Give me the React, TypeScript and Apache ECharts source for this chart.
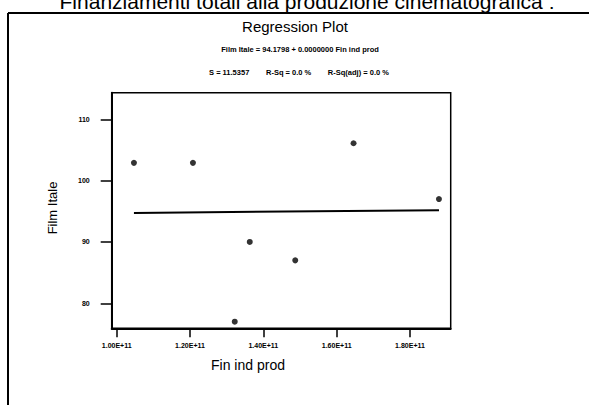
import React, { useEffect, useRef } from "react";
import * as echarts from "echarts";

const pageTitle = "Finanziamenti totali alla produzione cinematografica :";
const plotTitle = "Regression Plot";
const equationText = "Film Itale = 94.1798 + 0.0000000 Fin ind prod";
const statsText = "S = 11.5357        R-Sq = 0.0 %        R-Sq(adj) = 0.0 %";
const xName = "Fin ind prod";
const yName = "Film Itale";

// observations (Fin ind prod, Film Itale)
const finIndProd = [1.047e11, 1.208e11, 1.322e11, 1.363e11, 1.487e11, 1.646e11, 1.879e11];
const filmItale = [102.9, 102.9, 77.0, 90.0, 87.0, 106.1, 97.0];

// fitted line
const intercept = 94.1798;
const slope = 5.3e-12;

const xTicks = [1.0e11, 1.2e11, 1.4e11, 1.6e11, 1.8e11];
const yTicks = [80, 90, 100, 110];

const FONT = "'Liberation Sans', Arial, sans-serif";

export default function App() {
  const ref = useRef<HTMLDivElement>(null);
  useEffect(() => {
    const chart = echarts.init(ref.current!, null, { renderer: "svg" });
    const xMin = Math.min(...finIndProd);
    const xMax = Math.max(...finIndProd);
    const gl = 111.7, gt = 92.7, gw = 339, gh = 235.6;
    chart.setOption({
      animation: false,
      backgroundColor: "#ffffff",
      grid: {
        left: gl,
        top: gt,
        width: gw,
        height: gh,
        show: true,
        borderColor: "#000",
        borderWidth: 1.5,
        backgroundColor: "transparent",
      },
      xAxis: {
        type: "value",
        min: 0.9864e11,
        max: 1.911e11,
        splitLine: { show: false },
        axisLine: { show: true, onZero: false, lineStyle: { color: "#000", width: 2 } },
        axisTick: { show: true, length: 9, customValues: xTicks, lineStyle: { color: "#000", width: 1.5 } },
        axisLabel: {
          customValues: xTicks,
          margin: 14,
          color: "#000",
          fontFamily: FONT,
          fontWeight: "bold",
          fontSize: 7,
          formatter: (v: number) => (v / 1e11).toFixed(2) + "E+11",
        },
      },
      yAxis: {
        type: "value",
        min: 75.92,
        max: 114.34,
        splitLine: { show: false },
        axisLine: { show: true, onZero: false, lineStyle: { color: "#000", width: 2 } },
        axisTick: { show: true, length: 11, customValues: yTicks, lineStyle: { color: "#000", width: 1.5 } },
        axisLabel: {
          customValues: yTicks,
          margin: 22,
          color: "#000",
          fontFamily: FONT,
          fontWeight: "bold",
          fontSize: 7,
        },
      },
      series: [
        {
          type: "line",
          data: [
            [xMin, intercept + slope * xMin],
            [xMax, intercept + slope * xMax],
          ],
          showSymbol: false,
          lineStyle: { color: "#000", width: 2 },
          silent: true,
        },
        {
          type: "scatter",
          data: finIndProd.map((x, i) => [x, filmItale[i]]),
          symbol: "circle",
          symbolSize: 6,
          itemStyle: { color: "#000" },
        },
      ],
      graphic: [
        { type: "line", shape: { x1: 8, y1: 13, x2: 589, y2: 13 }, style: { stroke: "#000", lineWidth: 2 } },
        { type: "line", shape: { x1: 8, y1: 13, x2: 8, y2: 405 }, style: { stroke: "#000", lineWidth: 2 } },
        {
          type: "text", x: 307, y: 12,
          style: { text: pageTitle, font: `21px ${FONT}`, fill: "#000", align: "center", verticalAlign: "bottom" },
        },
        {
          type: "text", x: 295, y: 26,
          style: { text: plotTitle, font: `15px ${FONT}`, fill: "#000", align: "center", verticalAlign: "middle" },
        },
        {
          type: "text", x: 300, y: 49,
          style: { text: equationText, font: `bold 7.5px ${FONT}`, fill: "#000", align: "center", verticalAlign: "middle" },
        },
        {
          type: "text", x: 299, y: 72,
          style: { text: statsText, font: `bold 7.5px ${FONT}`, fill: "#000", align: "center", verticalAlign: "middle" },
        },
        {
          type: "text", x: 248, y: 365,
          style: { text: xName, font: `14px ${FONT}`, fill: "#000", align: "center", verticalAlign: "middle" },
        },
        {
          type: "text", x: 52, y: 208, rotation: Math.PI / 2,
          style: { text: yName, font: `13px ${FONT}`, fill: "#000", align: "center", verticalAlign: "middle" },
        },
      ],
    });
    return () => chart.dispose();
  }, []);
  return <div ref={ref} style={{ position: "fixed", left: 0, top: 0, width: 589, height: 405 }} />;
}
